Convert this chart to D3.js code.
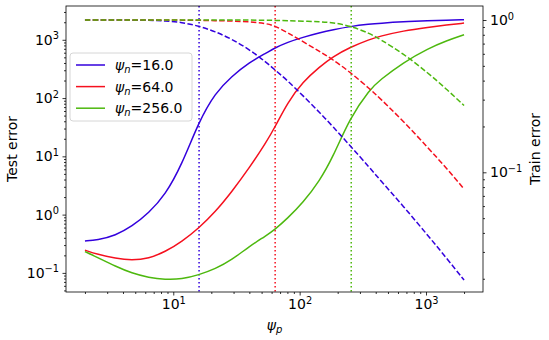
<!DOCTYPE html>
<html>
<head>
<meta charset="utf-8">
<script src="https://cdn.jsdelivr.net/npm/d3@7"></script>
<style>
  body { margin: 0; background: #fff; }
  text { font-family: "DejaVu Sans", sans-serif; }
</style>
</head>
<body>
<div id="wrapper"></div>
<script>
// psi_p sample points (x axis)
const psiP = [2, 2.5, 3.5, 4.7, 6.4, 8.6, 11.7, 15.9, 21.5, 29, 40, 54, 64, 80, 106, 144, 183, 250, 360, 430, 660, 1050, 1450, 2000]

// test error (left axis, solid)
const test16 = [0.354, 0.364, 0.441, 0.624, 1.07, 2.14, 7.2, 39, 123, 236, 411, 586, 729, 906, 1104, 1319, 1485, 1692, 1860, 1920, 2037, 2120, 2162, 2204]
const test64 = [0.245, 0.208, 0.177, 0.165, 0.177, 0.229, 0.345, 0.585, 1.115, 2.46, 6.35, 17.0, 32.1, 82.9, 190, 344, 511, 743, 1020, 1148, 1427, 1639, 1788, 1935]
const test256 = [0.232, 0.185, 0.129, 0.0988, 0.0831, 0.0767, 0.0779, 0.0924, 0.117, 0.167, 0.285, 0.432, 0.56, 0.86, 1.59, 3.8, 9.6, 45.8, 142, 202, 408, 715, 961, 1218]

// train error (right axis, dashed)
const train16 = [1.0, 1.0, 1.0, 0.9985, 0.9955, 0.988, 0.966, 0.913, 0.840, 0.750, 0.640, 0.530, 0.4695, 0.4007, 0.3192, 0.247, 0.1999, 0.150, 0.1067, 0.0897, 0.0601, 0.0379, 0.0274, 0.0196]
const train64 = [1.0, 1.0, 1.0, 1.0, 1.0, 1.0, 0.9985, 0.9955, 0.991, 0.985, 0.9746, 0.9513, 0.913, 0.828, 0.7226, 0.6211, 0.5505, 0.4555, 0.3522, 0.3075, 0.2172, 0.1433, 0.1067, 0.0777]
const train256 = [1.0, 1.0, 1.0, 1.0, 1.0, 1.0, 1.0, 1.0, 1.0, 1.0, 0.999, 0.997, 0.994, 0.9895, 0.9835, 0.973, 0.9629, 0.9162, 0.8155, 0.7502, 0.6026, 0.4454, 0.3522, 0.2746]

const psiN = [16, 64, 256]
const labels = ["16.0", "64.0", "256.0"]
const colors = ["#3300dd", "#f5101e", "#4db80e"]
const testSeries = [test16, test64, test256]
const trainSeries = [train16, train64, train256]

const xTicks = [10, 100, 1000]
const yTicks = [0.1, 1, 10, 100, 1000]
const y2Ticks = [0.1, 1]

let dimensions = {
  width: 549,
  height: 340,
  margin: { top: 6, right: 66, bottom: 48, left: 66 }
}
dimensions.boundedWidth = dimensions.width - dimensions.margin.left - dimensions.margin.right
dimensions.boundedHeight = dimensions.height - dimensions.margin.top - dimensions.margin.bottom

const wrapper = d3.select('#wrapper')
  .append('svg')
  .attr('width', dimensions.width)
  .attr('height', dimensions.height)

const bounds = wrapper.append('g')
  .attr('transform', `translate(${dimensions.margin.left},${dimensions.margin.top})`)

const xScale = d3.scaleLog()
  .domain([1.416, 2825])
  .range([0, dimensions.boundedWidth])
const yScale = d3.scaleLog()
  .domain([0.047, 3800])
  .range([dimensions.boundedHeight, 0])
const y2Scale = d3.scaleLog()
  .domain([0.01637, 1.236])
  .range([dimensions.boundedHeight, 0])

bounds.append('clipPath').attr('id', 'clip')
  .append('rect')
  .attr('width', dimensions.boundedWidth)
  .attr('height', dimensions.boundedHeight)

// minor ticks inside domain
function minors(scale) {
  const [a, b] = scale.domain()
  const out = []
  for (let e = Math.floor(Math.log10(a)); e <= Math.ceil(Math.log10(b)); e++) {
    for (let m = 2; m <= 9; m++) {
      const v = m * Math.pow(10, e)
      if (v >= a && v <= b) out.push(v)
    }
  }
  return out
}

function supLabels(sel) {
  sel.selectAll('.tick text').each(function(d) {
    const e = Math.round(Math.log10(d))
    const t = d3.select(this).text('10')
    t.append('tspan')
      .attr('dy', '-0.55em')
      .attr('font-size', '0.7em')
      .text(e < 0 ? '\u2212' + (-e) : e)
  })
}

function styleAxis(g) {
  g.attr('font-family', 'DejaVu Sans').attr('font-size', 14)
  g.select('.domain').remove()
  g.selectAll('.tick line').attr('stroke', '#000').attr('stroke-width', 0.8)
  g.selectAll('.tick text').attr('fill', '#000')
}

// x axis
bounds.append('g')
  .attr('transform', `translate(0,${dimensions.boundedHeight})`)
  .call(d3.axisBottom(xScale).tickValues(minors(xScale)).tickSize(2).tickFormat(''))
  .call(styleAxis)
bounds.append('g')
  .attr('transform', `translate(0,${dimensions.boundedHeight})`)
  .call(d3.axisBottom(xScale).tickValues(xTicks).tickSize(3.5).tickPadding(3.5))
  .call(styleAxis)
  .call(supLabels)

// left y axis
bounds.append('g')
  .call(d3.axisLeft(yScale).tickValues(minors(yScale)).tickSize(2).tickFormat(''))
  .call(styleAxis)
bounds.append('g')
  .call(d3.axisLeft(yScale).tickValues(yTicks).tickSize(3.5).tickPadding(3.5))
  .call(styleAxis)
  .call(supLabels)

// right y axis
bounds.append('g')
  .attr('transform', `translate(${dimensions.boundedWidth},0)`)
  .call(d3.axisRight(y2Scale).tickValues(minors(y2Scale)).tickSize(2).tickFormat(''))
  .call(styleAxis)
bounds.append('g')
  .attr('transform', `translate(${dimensions.boundedWidth},0)`)
  .call(d3.axisRight(y2Scale).tickValues(y2Ticks).tickSize(3.5).tickPadding(3.5))
  .call(styleAxis)
  .call(supLabels)

const plot = bounds.append('g').attr('clip-path', 'url(#clip)')

const testLine = d3.line()
  .x((d, i) => xScale(psiP[i]))
  .y(d => yScale(d))
  .curve(d3.curveBasis)
const trainLine = d3.line()
  .x((d, i) => xScale(psiP[i]))
  .y(d => y2Scale(d))
  .curve(d3.curveBasis)

testSeries.forEach((s, k) => {
  plot.append('path')
    .attr('d', testLine(s))
    .attr('fill', 'none')
    .attr('stroke', colors[k])
    .attr('stroke-width', 1.5)
  plot.append('line')
    .attr('x1', xScale(psiN[k])).attr('x2', xScale(psiN[k]))
    .attr('y1', 0).attr('y2', dimensions.boundedHeight)
    .attr('stroke', colors[k])
    .attr('stroke-width', 1.5)
    .attr('stroke-dasharray', '1.5,2.5')
})

trainSeries.forEach((s, k) => {
  plot.append('path')
    .attr('d', trainLine(s))
    .attr('fill', 'none')
    .attr('stroke', colors[k])
    .attr('stroke-width', 1.5)
    .attr('stroke-dasharray', '5.5,2.4')
})

// frame
bounds.append('rect')
  .attr('width', dimensions.boundedWidth)
  .attr('height', dimensions.boundedHeight)
  .attr('fill', 'none')
  .attr('stroke', '#000')
  .attr('stroke-width', 0.8)

// legend
const legend = bounds.append('g').attr('transform', 'translate(4,47)')
legend.append('rect')
  .attr('width', 122).attr('height', 68)
  .attr('rx', 3)
  .attr('fill', '#fff').attr('fill-opacity', 0.8)
  .attr('stroke', '#cccccc').attr('stroke-width', 0.8)
labels.forEach((l, k) => {
  const yy = 12 + k * 21.6
  legend.append('line')
    .attr('x1', 6).attr('x2', 35)
    .attr('y1', yy).attr('y2', yy)
    .attr('stroke', colors[k]).attr('stroke-width', 1.5)
  const t = legend.append('text')
    .attr('x', 45).attr('y', yy + 5)
    .attr('font-size', 14)
  t.append('tspan').attr('font-style', 'italic').text('\u03C8')
  t.append('tspan').attr('font-style', 'italic').attr('font-size', 10).attr('dy', 3).text('n')
  t.append('tspan').attr('dy', -3).text('=' + l)
})

// axis labels
wrapper.append('text')
  .attr('transform', `translate(17,${dimensions.margin.top + dimensions.boundedHeight / 2}) rotate(-90)`)
  .attr('text-anchor', 'middle')
  .attr('font-size', 14)
  .text('Test error')
wrapper.append('text')
  .attr('transform', `translate(540,${dimensions.margin.top + dimensions.boundedHeight / 2}) rotate(-90)`)
  .attr('text-anchor', 'middle')
  .attr('font-size', 14)
  .text('Train error')
const xl = wrapper.append('text')
  .attr('x', dimensions.margin.left + dimensions.boundedWidth / 2)
  .attr('y', 330)
  .attr('text-anchor', 'middle')
  .attr('font-size', 14)
xl.append('tspan').attr('font-style', 'italic').text('\u03C8')
xl.append('tspan').attr('font-style', 'italic').attr('font-size', 10).attr('dy', 3).text('p')
</script>
</body>
</html>
